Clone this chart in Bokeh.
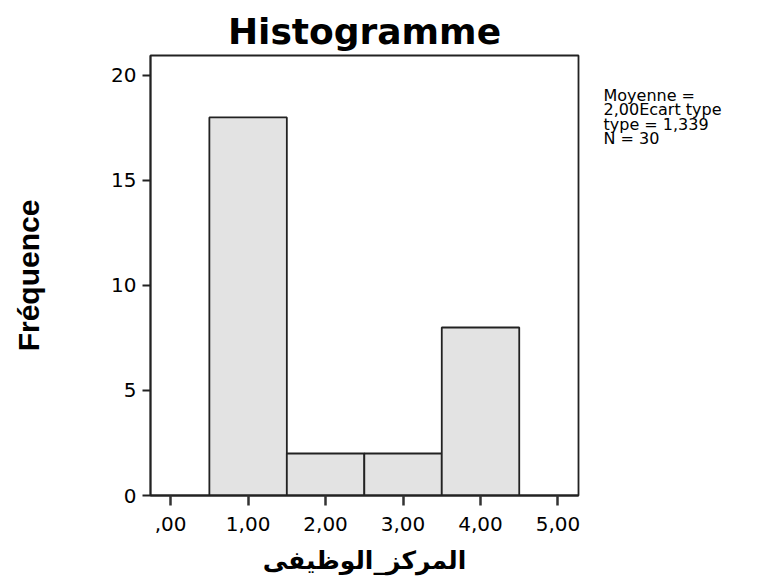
from bokeh.plotting import figure
from bokeh.models import Range1d, FixedTicker, LinearAxis, AllLabels
from bokeh.embed import file_html
from bokeh.resources import INLINE

# ---- data ----
bin_centers = [1, 2, 3, 4]
counts = [18, 2, 2, 8]
bin_width = 1.0
x_tick_values = [0, 1, 2, 3, 4, 5]
x_tick_labels = [",00", "1,00", "2,00", "3,00", "4,00", "5,00"]
y_tick_values = [0, 5, 10, 15, 20]
stats_lines = ["Moyenne =", "2,00Ecart type", " type = 1,339", "N = 30"]
title_text = "Histogramme"
x_label = "المركز_الوظيفى"
y_label = "Fréquence"

lefts = [c - bin_width / 2 for c in bin_centers]
rights = [c + bin_width / 2 for c in bin_centers]

p = figure(width=764, height=583, output_backend="svg", toolbar_location=None,
           x_range=Range1d(-0.26, 5.265), y_range=Range1d(0, 20.95),
           min_border_left=150, min_border_right=186, min_border_top=55,
           min_border_bottom=88, title=title_text)

p.title.align = "center"
p.title.text_font = "DejaVu Sans"
p.title.text_font_size = "36px"
p.title.text_font_style = "bold"
p.title.text_color = "black"
p.title.standoff = 8

p.quad(left=lefts, right=rights, bottom=0, top=counts,
       fill_color="#e3e3e3", line_color="#222222", line_width=1.8)

p.xgrid.visible = False
p.ygrid.visible = False
p.outline_line_color = "#222222"
p.outline_line_width = 1.8
p.background_fill_color = "white"
p.border_fill_color = "white"

xa = p.xaxis[0]
xa.ticker = FixedTicker(ticks=x_tick_values)
xa.major_label_overrides = {v: l for v, l in zip(x_tick_values, x_tick_labels)}
xa.minor_tick_line_color = None
xa.major_tick_in = 0
xa.major_tick_out = 10
xa.major_tick_line_width = 2.5
xa.major_tick_line_color = "#333333"
xa.axis_line_color = "#222222"
xa.axis_line_width = 1.8
xa.major_label_text_font = "DejaVu Sans"
xa.major_label_text_font_size = "20px"
xa.major_label_text_color = "black"
xa.major_label_standoff = 11
xa.axis_label = x_label
xa.axis_label_text_font = "DejaVu Sans"
xa.axis_label_text_font_size = "25px"
xa.axis_label_text_font_style = "bold"
xa.axis_label_text_color = "black"
xa.axis_label_standoff = 12

ya = p.yaxis[0]
ya.ticker = FixedTicker(ticks=y_tick_values)
ya.minor_tick_line_color = None
ya.major_tick_in = 0
ya.major_tick_out = 8
ya.major_tick_line_width = 2
ya.major_tick_line_color = "#222222"
ya.axis_line_color = "#222222"
ya.axis_line_width = 1.8
ya.major_label_text_font = "DejaVu Sans"
ya.major_label_text_font_size = "20px"
ya.major_label_text_color = "black"
ya.major_label_standoff = 6
ya.axis_label = y_label
ya.axis_label_text_font = "Liberation Sans"
ya.axis_label_text_font_size = "30px"
ya.axis_label_text_font_style = "bold"
ya.axis_label_text_color = "black"
ya.axis_label_standoff = 63

# stats text block in the right margin, drawn as an unlined side axis
line_top = 19.05
line_step = 0.69
stat_pos = [line_top - i * line_step for i in range(len(stats_lines))]
sa = LinearAxis(ticker=FixedTicker(ticks=stat_pos),
                major_label_overrides={v: t for v, t in zip(stat_pos, stats_lines)},
                major_label_policy=AllLabels(),
                axis_line_color=None, major_tick_line_color=None,
                minor_tick_line_color=None, major_tick_in=0, major_tick_out=0,
                major_label_standoff=25,
                major_label_text_font="DejaVu Sans",
                major_label_text_font_size="16px",
                major_label_text_color="black")
p.add_layout(sa, "right")

open("out.html", "w").write(file_html(p, INLINE))
